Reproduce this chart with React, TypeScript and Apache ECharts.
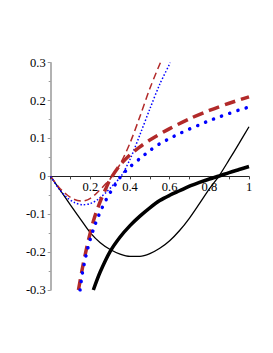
import React, { useEffect, useRef } from "react";
import * as echarts from "echarts";

const xTickLabels = ["0.2", "0.4", "0.6", "0.8", "1"];

const blackThinX = [0, 0.05, 0.1, 0.15, 0.2, 0.25, 0.3, 0.35, 0.4, 0.45, 0.5, 0.55, 0.6, 0.65, 0.7, 0.75, 0.8, 0.85, 0.9, 0.95, 1];
const blackThinY = [0, -0.038, -0.076, -0.113, -0.149, -0.175, -0.193, -0.205, -0.211, -0.211, -0.204, -0.19, -0.17, -0.143, -0.11, -0.072, -0.033, 0.002, 0.044, 0.087, 0.131];

const blackThickX = [0.215, 0.25, 0.3, 0.35, 0.4, 0.45, 0.5, 0.55, 0.6, 0.65, 0.7, 0.75, 0.8, 0.85, 0.9, 0.95, 1];
const blackThickY = [-0.3, -0.252, -0.198, -0.16, -0.13, -0.105, -0.083, -0.064, -0.05, -0.038, -0.026, -0.016, -0.007, 0.001, 0.01, 0.018, 0.026];

const redThickX = [0.14, 0.16, 0.18, 0.2, 0.22, 0.25, 0.28, 0.3, 0.35, 0.4, 0.45, 0.5, 0.6, 0.7, 0.8, 0.9, 1];
const redThickY = [-0.3, -0.242, -0.192, -0.148, -0.11, -0.066, -0.03, -0.008, 0.03, 0.057, 0.078, 0.096, 0.126, 0.152, 0.174, 0.193, 0.21];

const blueThickX = [0.148, 0.16, 0.18, 0.2, 0.22, 0.24, 0.26, 0.28, 0.3, 0.33, 0.36, 0.4, 0.45, 0.5, 0.55, 0.6, 0.65, 0.7, 0.75, 0.8, 0.85, 0.9, 0.95, 1];
const blueThickY = [-0.3, -0.255, -0.205, -0.165, -0.133, -0.106, -0.082, -0.061, -0.043, -0.018, 0.004, 0.025, 0.047, 0.068, 0.086, 0.1, 0.113, 0.125, 0.136, 0.147, 0.157, 0.166, 0.175, 0.183];

const redThinX = [0, 0.04, 0.08, 0.12, 0.16, 0.2, 0.24, 0.28, 0.31, 0.35, 0.4, 0.45, 0.5, 0.553];
const redThinY = [0, -0.028, -0.048, -0.061, -0.065, -0.058, -0.04, -0.018, 0, 0.032, 0.088, 0.158, 0.232, 0.3];

const blueThinX = [0, 0.04, 0.08, 0.12, 0.16, 0.2, 0.24, 0.28, 0.32, 0.355, 0.4, 0.45, 0.5, 0.55, 0.603];
const blueThinY = [0, -0.032, -0.055, -0.069, -0.075, -0.072, -0.06, -0.042, -0.02, 0, 0.045, 0.11, 0.178, 0.243, 0.3];

const zip = (xs: number[], ys: number[]) => xs.map((x, i) => [x, ys[i]]);

const FONT = "Liberation Serif";

const GRID_TOP = 62.7;
const GRID_BOTTOM = 63;
const H = 353;
const plotH = H - GRID_TOP - GRID_BOTTOM;

export default function App() {
  const ref = useRef<HTMLDivElement>(null);
  useEffect(() => {
    document.body.style.margin = "0";
    const chart = echarts.init(ref.current!, null, { renderer: "svg" });
    chart.setOption({
      animation: false,
      textStyle: { fontFamily: FONT },
      grid: { left: 50.7, right: 24, top: GRID_TOP, bottom: GRID_BOTTOM, containLabel: false },
      xAxis: {
        type: "value",
        min: 0,
        max: 1,
        interval: 0.2,
        offset: -plotH / 2,
        axisLine: { onZero: false, lineStyle: { color: "#222", width: 1 } },
        axisTick: { show: true, length: 3, lineStyle: { color: "#444" } },
        minorTick: { show: true, splitNumber: 2, length: 3, lineStyle: { color: "#444" } },
        splitLine: { show: false },
        minorSplitLine: { show: false },
        axisLabel: {
          showMinLabel: false,
          margin: 4,
          color: "#000",
          fontFamily: FONT,
          fontSize: 12.5,
          formatter: (v: number) => {
            const i = Math.round(v / 0.2) - 1;
            return i >= 0 && i < xTickLabels.length ? xTickLabels[i] : "";
          },
        },
      },
      yAxis: {
        type: "value",
        min: -0.3,
        max: 0.3,
        interval: 0.1,
        axisLine: { onZero: false, lineStyle: { color: "#999", width: 1.5 } },
        axisTick: { show: true, length: 3, lineStyle: { color: "#999" } },
        minorTick: { show: true, splitNumber: 2, length: 2, lineStyle: { color: "#999" } },
        splitLine: { show: false },
        axisLabel: {
          margin: 5,
          color: "#000",
          fontFamily: FONT,
          fontSize: 12.5,
          formatter: (v: number) => {
            const r = Math.round(v * 10) / 10;
            if (r === 0) return "0";
            return (r < 0 ? "-" : "") + Math.abs(r).toFixed(1);
          },
        },
      },
      series: [
        {
          type: "line",
          data: zip(blackThinX, blackThinY),
          showSymbol: false,
          smooth: 0.3,
          lineStyle: { color: "#000", width: 1.3 },
        },
        {
          type: "line",
          data: zip(redThinX, redThinY),
          showSymbol: false,
          smooth: 0.3,
          lineStyle: { color: "#b22a2a", width: 1.5, type: [7, 4] },
        },
        {
          type: "line",
          data: zip(blueThinX, blueThinY),
          showSymbol: false,
          smooth: 0.3,
          lineStyle: { color: "#0000ff", width: 1.5, type: [1.5, 2], cap: "butt" },
        },
        {
          type: "line",
          data: zip(blackThickX, blackThickY),
          showSymbol: false,
          smooth: 0.3,
          lineStyle: { color: "#000", width: 3.5 },
        },
        {
          type: "line",
          data: zip(redThickX, redThickY),
          showSymbol: false,
          smooth: 0.3,
          lineStyle: { color: "#b22a2a", width: 3.5, type: [11, 6], cap: "butt" },
        },
        {
          type: "line",
          data: zip(blueThickX, blueThickY),
          showSymbol: false,
          smooth: 0.3,
          lineStyle: { color: "#0000ff", width: 3.5, type: [0.1, 8.5], cap: "round" },
        },
      ],
    });
    return () => chart.dispose();
  }, []);
  return <div ref={ref} style={{ width: 273, height: 353 }} />;
}
